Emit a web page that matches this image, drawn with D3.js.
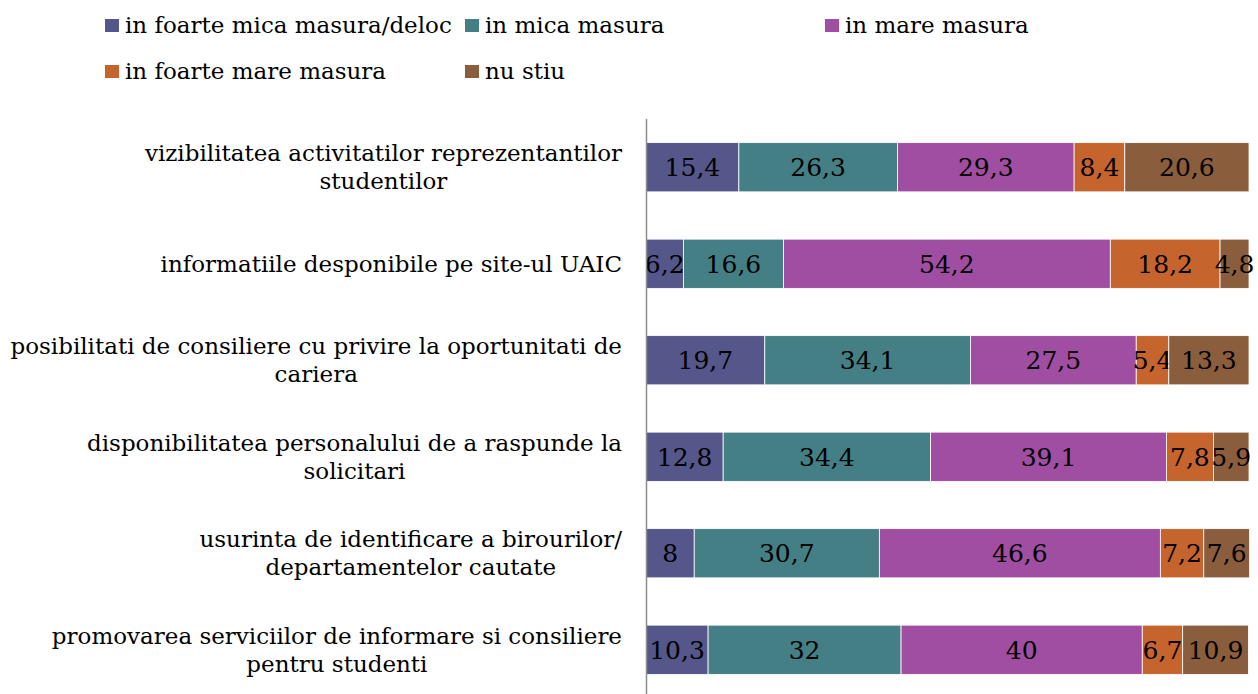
<!DOCTYPE html>
<html><head><meta charset="utf-8">
<script src="https://cdn.jsdelivr.net/npm/d3@7"></script>
<style>body{margin:0;background:#fff}svg{display:block}</style>
</head><body>
<script>
const categories = [
  ["vizibilitatea activitatilor reprezentantilor", "studentilor"],
  ["informatiile desponibile pe site-ul UAIC"],
  ["posibilitati de consiliere cu privire la oportunitati de", "cariera"],
  ["disponibilitatea personalului de a raspunde la", "solicitari"],
  ["usurinta de identificare a birourilor/", "departamentelor cautate"],
  ["promovarea serviciilor de informare si consiliere", "pentru studenti"]
];
const seriesNames = ["in foarte mica masura/deloc","in mica masura","in mare masura","in foarte mare masura","nu stiu"];
const colors = ["#55568A","#437F85","#A04EA2","#C6642D","#8A5D3C"];
const s1 = [15.4, 6.2, 19.7, 12.8, 8, 10.3];
const s2 = [26.3, 16.6, 34.1, 34.4, 30.7, 32];
const s3 = [29.3, 54.2, 27.5, 39.1, 46.6, 40];
const s4 = [8.4, 18.2, 5.4, 7.8, 7.2, 6.7];
const s5 = [20.6, 4.8, 13.3, 5.9, 7.6, 10.9];
const series = [s1,s2,s3,s4,s5];

const W = 1258, H = 694;
const svg = d3.select("body").append("svg").attr("width", W).attr("height", H);
const rows = categories.map((c,i)=>{const o={i}; seriesNames.forEach((n,k)=>o[n]=series[k][i]); return o;});
const stack = d3.stack().keys(seriesNames)(rows);

const x = d3.scaleLinear().domain([0,100]).range([646,1249]);
const y = d3.scaleBand().domain(d3.range(categories.length)).range([119,698]).paddingInner(0.49).paddingOuter(0.245);

const fmt = v => String(v).replace(".", ",");

stack.forEach((layer,k)=>{
  const g = svg.append("g");
  g.selectAll("rect").data(layer).join("rect")
    .attr("x", d=>x(d[0])).attr("y", (d,i)=>y(i))
    .attr("width", d=>x(d[1])-x(d[0])).attr("height", y.bandwidth())
    .attr("fill", colors[k]).attr("stroke","#fff").attr("stroke-width",0.8);
  g.selectAll("text").data(layer).join("text")
    .attr("x", d=>(x(d[0])+x(d[1]))/2).attr("y", (d,i)=>y(i)+y.bandwidth()/2+9)
    .attr("text-anchor","middle").attr("font-family","DejaVu Serif, serif").attr("font-size",25)
    .attr("fill","#000").text((d,i)=>fmt(series[k][i]));
});

// axis line
svg.append("line").attr("x1",646.5).attr("x2",646.5).attr("y1",119).attr("y2",694).attr("stroke","#8c8c8c").attr("stroke-width",1.5);

// category labels
categories.forEach((lines,i)=>{
  const cy = y(i)+y.bandwidth()/2;
  const g = svg.append("g").attr("font-family","DejaVu Serif, serif").attr("font-size",23).attr("fill","#000");
  const lh = 28;
  const ts = lines.map((t,j)=>g.append("text").attr("y", cy + (j-(lines.length-1)/2)*lh + 8).text(t));
  const wmax = d3.max(ts, t=>t.node().getComputedTextLength());
  const cx = 622 - wmax/2;
  ts.forEach(t=>t.attr("x",cx).attr("text-anchor","middle"));
});

// legend
const legPos = [[105,19],[465,19],[825,19],[105,65],[465,65]];
seriesNames.forEach((n,k)=>{
  const [lx,ly] = legPos[k];
  svg.append("rect").attr("x",lx).attr("y",ly).attr("width",14).attr("height",13).attr("fill",colors[k]);
  svg.append("text").attr("x",lx+20).attr("y",ly+14).attr("font-family","DejaVu Serif, serif").attr("font-size",23).text(n);
});
</script>
</body></html>
